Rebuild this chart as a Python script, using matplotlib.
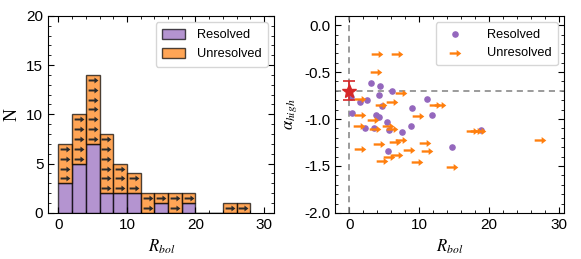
import numpy as np
import matplotlib
matplotlib.use("Agg")
import matplotlib.pyplot as plt
from matplotlib.path import Path
from matplotlib.ticker import MultipleLocator

plt.rcParams['font.family'] = ['Liberation Sans', 'DejaVu Sans']
plt.rcParams['mathtext.fontset'] = 'stix'

# histogram (counts per 2-wide bin of R_bol, left edges 0..26)
bin_edges = np.arange(0, 28, 2)
resolved_counts = [3, 5, 7, 2, 2, 2, 0, 1, 0, 1, 0, 0, 0, 0]
unresolved_counts = [4, 5, 7, 6, 3, 2, 2, 1, 2, 1, 0, 0, 1, 1]

# scatter: resolved sources
res_rbol = [3.05, 4.33, 6.14, 4.29, 0.2, 1.57, 2.57, 4.67, 11.14, 0.43, 3.81, 4.29,
            8.95, 11.85, 2.29, 3.57, 5.43, 5.62, 7.48, 8.81, 5.48, 14.67, 18.86]
res_alpha = [-0.616, -0.652, -0.706, -0.745, -0.767, -0.814, -0.80, -0.86, -0.785,
             -0.94, -0.957, -0.978, -0.885, -0.957, -1.10, -1.097, -1.032, -1.118,
             -1.14, -1.07, -1.34, -1.30, -1.12]

# scatter: unresolved sources (lower limits on R_bol)
unres_rbol = [3.95, 6.81, 3.86, 7.38, 1.48, 4.52, 6.14, 12.3, 12.9, 1.57, 9.76, 3.43,
              1.43, 3.67, 5.52, 6.14, 17.5, 18.1, 18.7, 4.19, 6.48, 7.38, 10.76, 11.05,
              1.48, 8.57, 6.76, 5.71, 4.67, 9.67, 14.67, 27.24]
unres_alpha = [-0.305, -0.305, -0.498, -0.724, -0.785, -0.846, -0.817, -0.846, -0.846,
               -0.953, -0.971, -1.01, -1.07, -1.11, -1.075, -1.108, -1.13, -1.13, -1.125,
               -1.265, -1.24, -1.22, -1.26, -1.34, -1.32, -1.33, -1.38, -1.405, -1.45,
               -1.459, -1.51, -1.22]

ref_rbol, ref_alpha, ref_err = 0.0, -0.7, 0.1

# right-pointing arrow marker (shaft + head as one filled polygon)
arrow = Path([(-1, -0.2), (0.2, -0.2), (0.2, -0.6), (1, 0), (0.2, 0.6),
              (0.2, 0.2), (-1, 0.2), (-1, -0.2)], closed=True)

fig = plt.figure(figsize=(5.81, 2.59), dpi=100)
ax1 = fig.add_axes([0.083, 0.178, 0.389, 0.761])
ax2 = fig.add_axes([0.577, 0.178, 0.394, 0.761])

# left: stacked histogram
width = 2
ax1.bar(bin_edges, resolved_counts, width=width, align='edge', color='tab:purple',
        alpha=0.7, edgecolor='k', lw=1, label='Resolved')
ax1.bar(bin_edges, unresolved_counts, width=width, align='edge', bottom=resolved_counts,
        color='tab:orange', alpha=0.7, edgecolor='k', lw=1, label='Unresolved')

# arrows marking each unresolved source in the bars
ax_x, ax_y = [], []
for left, r, u in zip(bin_edges, resolved_counts, unresolved_counts):
    for i in range(u):
        ax_x.append(left + width / 2)
        ax_y.append(r + i + 0.5)
ax1.scatter(ax_x, ax_y, marker=arrow, s=50, c='#2a2a2a', lw=0)

ax1.set_xlim(-1.5, 31.5)
ax1.set_ylim(0, 20)
ax1.set_xlabel(r'$R_{bol}$', fontsize=12)
ax1.set_ylabel('N', fontsize=13, family='Liberation Serif')
ax1.xaxis.set_major_locator(MultipleLocator(10))
ax1.xaxis.set_minor_locator(MultipleLocator(2))
ax1.yaxis.set_major_locator(MultipleLocator(5))
ax1.yaxis.set_minor_locator(MultipleLocator(1))
ax1.legend(loc='upper right', fontsize=9.2, handlelength=1.8, handleheight=0.9,
           borderpad=0.5, handletextpad=0.9)

# right: alpha_high vs R_bol
ax2.axvline(ref_rbol, color='gray', ls='--', lw=1.1, dashes=(4, 3))
ax2.axhline(ref_alpha, color='gray', ls='--', lw=1.1, dashes=(4, 3))
ax2.scatter(res_rbol, res_alpha, s=14, c='tab:purple', label='Resolved', zorder=3)
ax2.scatter(unres_rbol, unres_alpha, marker=arrow, s=70, c='tab:orange', lw=0,
            label='Unresolved', zorder=3)
ax2.errorbar(ref_rbol, ref_alpha, yerr=ref_err, fmt='*', color='tab:red', ms=10,
             capsize=4, lw=1.2, capthick=1.2, zorder=4)

ax2.set_xlim(-2, 30.7)
ax2.set_ylim(-2.0, 0.1)
ax2.set_xlabel(r'$R_{bol}$', fontsize=12)
ax2.set_ylabel(r'$\alpha_{high}$', fontsize=12)
ax2.xaxis.set_major_locator(MultipleLocator(10))
ax2.xaxis.set_minor_locator(MultipleLocator(2))
ax2.yaxis.set_major_locator(MultipleLocator(0.5))
ax2.yaxis.set_minor_locator(MultipleLocator(0.1))
ax2.yaxis.set_major_formatter(plt.FormatStrFormatter('%.1f'))
ax2.legend(loc='upper right', fontsize=9.2, borderpad=0.5, handletextpad=1.5)

for ax in (ax1, ax2):
    ax.tick_params(which='both', direction='in', top=True, right=True, labelsize=11)
    ax.tick_params(which='major', length=4.5)
    ax.tick_params(which='minor', length=2.5)

fig.savefig('out.png', dpi=100)
